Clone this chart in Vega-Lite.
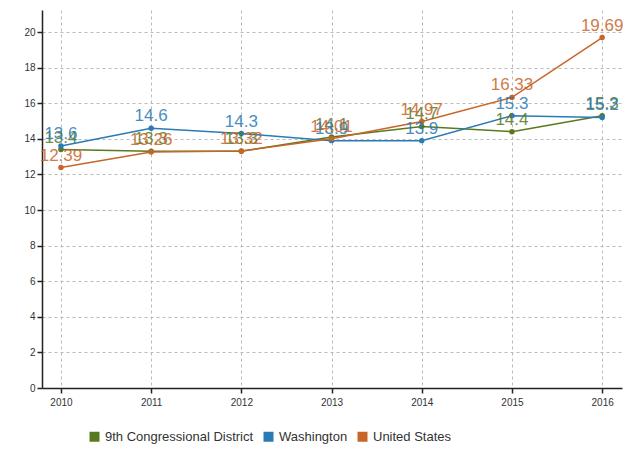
{
  "$schema": "https://vega.github.io/schema/vega-lite/v6.json",
  "width": 580,
  "height": 378,
  "autosize": "none",
  "padding": {"left": 42, "top": 10, "right": 12, "bottom": 64},
  "background": "#ffffff",
  "config": {
    "view": {"stroke": null},
    "font": "Liberation Sans",
    "axis": {
      "domainColor": "#222222",
      "domainWidth": 1.5,
      "tickColor": "#222222",
      "tickWidth": 1.5,
      "tickSize": 5,
      "labelFontSize": 10,
      "labelColor": "#333333",
      "gridColor": "#bbbbbb",
      "gridDash": [3, 3],
      "gridWidth": 1,
      "title": null
    }
  },
  "data": {
    "values": [
      {"year": 2010, "series": "9th Congressional District", "value": 13.4},
      {"year": 2011, "series": "9th Congressional District", "value": 13.3},
      {"year": 2012, "series": "9th Congressional District", "value": 13.3},
      {"year": 2013, "series": "9th Congressional District", "value": 14.1},
      {"year": 2014, "series": "9th Congressional District", "value": 14.7},
      {"year": 2015, "series": "9th Congressional District", "value": 14.4},
      {"year": 2016, "series": "9th Congressional District", "value": 15.3},
      {"year": 2010, "series": "Washington", "value": 13.6},
      {"year": 2011, "series": "Washington", "value": 14.6},
      {"year": 2012, "series": "Washington", "value": 14.3},
      {"year": 2013, "series": "Washington", "value": 13.9},
      {"year": 2014, "series": "Washington", "value": 13.9},
      {"year": 2015, "series": "Washington", "value": 15.3},
      {"year": 2016, "series": "Washington", "value": 15.2},
      {"year": 2010, "series": "United States", "value": 12.39},
      {"year": 2011, "series": "United States", "value": 13.26},
      {"year": 2012, "series": "United States", "value": 13.32},
      {"year": 2013, "series": "United States", "value": 14.01},
      {"year": 2014, "series": "United States", "value": 14.97},
      {"year": 2015, "series": "United States", "value": 16.33},
      {"year": 2016, "series": "United States", "value": 19.69}
    ]
  },
  "encoding": {
    "x": {
      "field": "year",
      "type": "quantitative",
      "scale": {"domain": [2009.79, 2016.22], "nice": false, "zero": false},
      "axis": {"values": [2010, 2011, 2012, 2013, 2014, 2015, 2016], "format": "d", "grid": true, "labelPadding": 4}
    },
    "y": {
      "field": "value",
      "type": "quantitative",
      "scale": {"domain": [0, 21.24], "nice": false},
      "axis": {"values": [0, 2, 4, 6, 8, 10, 12, 14, 16, 18, 20], "grid": true}
    },
    "color": {
      "field": "series",
      "type": "nominal",
      "scale": {
        "domain": ["9th Congressional District", "Washington", "United States"],
        "range": ["#587a1e", "#2a7ab6", "#c8652a"]
      },
      "legend": {
        "title": null,
        "orient": "none",
        "legendX": 46,
        "legendY": 420,
        "direction": "horizontal",
        "symbolType": "square",
        "symbolSize": 100,
        "symbolStrokeWidth": 0,
        "labelFontSize": 13,
        "labelColor": "#333333",
        "columnPadding": 8
      }
    }
  },
  "layer": [
    {"mark": {"type": "line", "strokeWidth": 1.5}},
    {"mark": {"type": "point", "filled": true, "size": 30, "opacity": 1}},
    {
      "mark": {"type": "text", "fontSize": 17, "baseline": "bottom", "dy": -3, "opacity": 0.85},
      "encoding": {"text": {"field": "value", "type": "quantitative"}}
    }
  ]
}
